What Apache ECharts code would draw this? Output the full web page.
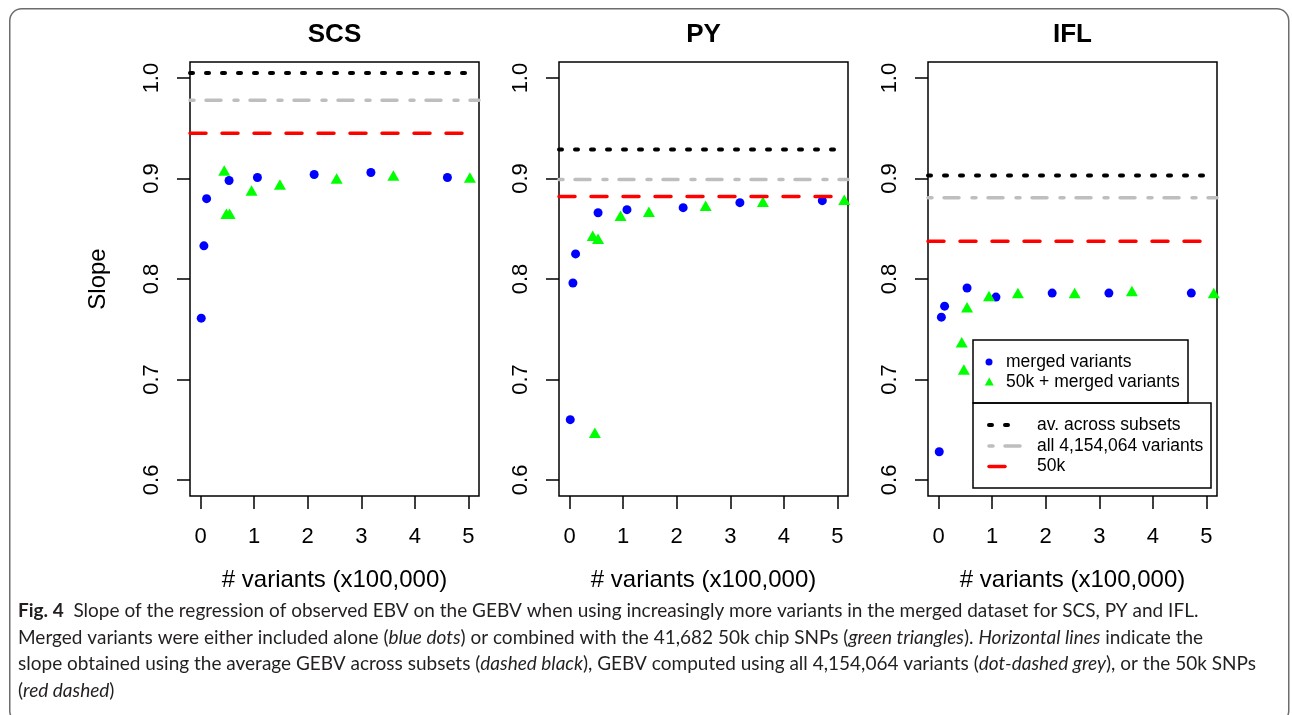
<!DOCTYPE html>
<html>

<head>
    <meta charset="UTF-8">
    <title>Slope vs number of variants</title>
    <script src="https://cdn.jsdelivr.net/npm/echarts/dist/echarts.min.js"></script>
</head>

<body style="margin:0;background:#fff;">
    <div id="chart" style="width: 1292px;height:715px;"></div>
    <script type="text/javascript">
        var myChart = echarts.init(document.getElementById('chart'));

        // Panels (traits)
        var traits = ['SCS', 'PY', 'IFL'];

        // merged variants alone (blue dots), x in units of 100,000 variants
        var scsBlueX = [0.01, 0.06, 0.11, 0.53, 1.06, 2.12, 3.18, 4.61];
        var scsBlueY = [0.761, 0.833, 0.880, 0.898, 0.901, 0.904, 0.906, 0.901];
        var pyBlueX = [0.01, 0.06, 0.11, 0.53, 1.07, 2.12, 3.18, 4.72];
        var pyBlueY = [0.660, 0.796, 0.825, 0.866, 0.869, 0.871, 0.876, 0.878];
        var iflBlueX = [0.01, 0.05, 0.11, 0.53, 1.07, 2.12, 3.18, 4.72];
        var iflBlueY = [0.628, 0.762, 0.773, 0.791, 0.782, 0.786, 0.786, 0.786];

        // 50k + merged variants (green triangles)
        var scsGreenX = [0.44, 0.48, 0.54, 0.95, 1.48, 2.54, 3.60, 5.03];
        var scsGreenY = [0.908, 0.865, 0.865, 0.888, 0.894, 0.900, 0.903, 0.901];
        var pyGreenX = [0.43, 0.47, 0.53, 0.95, 1.48, 2.54, 3.61, 5.13];
        var pyGreenY = [0.843, 0.647, 0.840, 0.863, 0.867, 0.873, 0.877, 0.879];
        var iflGreenX = [0.43, 0.47, 0.53, 0.94, 1.48, 2.54, 3.61, 5.14];
        var iflGreenY = [0.737, 0.710, 0.772, 0.783, 0.786, 0.786, 0.788, 0.786];

        // horizontal reference slopes, one value per panel
        var avgSubsets = [1.005, 0.929, 0.903];
        var allVariants = [0.978, 0.899, 0.881];
        var chip50k = [0.945, 0.882, 0.8375];

        // x extent of the reference lines
        var refLineX = [-0.2, 5];
        var greyLineX = [-0.2, 5.2];

        // axis ticks
        var xTicks = [0, 1, 2, 3, 4, 5];
        var yTicks = [0.6, 0.7, 0.8, 0.9, 1.0];

        // legend labels
        var pointLegend = ['merged variants', '50k + merged variants'];
        var lineLegend = ['av. across subsets', 'all 4,154,064 variants', '50k'];

        var blueX = [scsBlueX, pyBlueX, iflBlueX];
        var blueY = [scsBlueY, pyBlueY, iflBlueY];
        var greenX = [scsGreenX, pyGreenX, iflGreenX];
        var greenY = [scsGreenY, pyGreenY, iflGreenY];

        var FONT = "'Liberation Sans', Arial, sans-serif";
        var gridLeft = [190, 559, 928];

        var BLACK_DASH = [3, 13], GREY_DASH = [4, 12, 15, 13], RED_DASH = [16, 16];

        function zip(xs, ys) {
            return xs.map(function (x, i) { return [x, ys[i]]; });
        }

        var grids = [], xAxes = [], yAxes = [], titles = [], series = [];
        traits.forEach(function (name, i) {
            grids.push({
                left: gridLeft[i], top: 62, width: 289, height: 434,
                show: true, borderColor: '#000', borderWidth: 1.5, backgroundColor: 'transparent'
            });
            titles.push({
                text: name, left: gridLeft[i] + 144.5, top: 22, textAlign: 'center', padding: 0,
                textStyle: { fontFamily: FONT, fontSize: 26, fontWeight: 'bold', color: '#000' }
            });
            xAxes.push({
                gridIndex: i, type: 'value', min: -0.2, max: 5.2,
                axisLine: { show: false, onZero: false },
                splitLine: { show: false },
                axisTick: { show: true, length: 13, lineStyle: { color: '#000', width: 1.5 }, customValues: xTicks },
                axisLabel: { customValues: xTicks, fontFamily: FONT, fontSize: 22, color: '#000', margin: 30 },
                name: '# variants (x100,000)', nameLocation: 'middle', nameGap: 72,
                nameTextStyle: { fontFamily: FONT, fontSize: 24, color: '#000' }
            });
            yAxes.push({
                gridIndex: i, type: 'value', min: 0.584, max: 1.016,
                axisLine: { show: false, onZero: false },
                splitLine: { show: false },
                axisTick: { show: true, length: 13, lineStyle: { color: '#000', width: 1.5 }, customValues: yTicks },
                axisLabel: {
                    customValues: yTicks, rotate: 90, fontFamily: FONT, fontSize: 22, color: '#000', margin: 27,
                    formatter: function (v) { return v.toFixed(1); }
                },
                name: i === 0 ? 'Slope' : '', nameLocation: 'middle', nameGap: 80, nameRotate: 90,
                nameTextStyle: { fontFamily: FONT, fontSize: 24, color: '#000' }
            });

            series.push({
                name: lineLegend[0], type: 'line', xAxisIndex: i, yAxisIndex: i,
                data: refLineX.map(function (x) { return [x, avgSubsets[i]]; }),
                symbol: 'none', silent: true,
                lineStyle: { color: '#000', width: 4, type: BLACK_DASH, cap: 'round' }
            });
            series.push({
                name: lineLegend[1], type: 'line', xAxisIndex: i, yAxisIndex: i,
                data: greyLineX.map(function (x) { return [x, allVariants[i]]; }),
                symbol: 'none', silent: true,
                lineStyle: { color: '#BEBEBE', width: 3.5, type: GREY_DASH, cap: 'round' }
            });
            series.push({
                name: lineLegend[2], type: 'line', xAxisIndex: i, yAxisIndex: i,
                data: refLineX.map(function (x) { return [x, chip50k[i]]; }),
                symbol: 'none', silent: true,
                lineStyle: { color: '#FF0000', width: 3.5, type: RED_DASH, cap: 'round' }
            });
            series.push({
                name: pointLegend[0], type: 'scatter', xAxisIndex: i, yAxisIndex: i,
                data: zip(blueX[i], blueY[i]),
                symbol: 'circle', symbolSize: 9,
                itemStyle: { color: '#0000FF', opacity: 1 }
            });
            series.push({
                name: pointLegend[1], type: 'scatter', xAxisIndex: i, yAxisIndex: i,
                data: zip(greenX[i], greenY[i]),
                symbol: 'triangle', symbolSize: [12, 10.5],
                itemStyle: { color: '#00FF00', opacity: 1 }
            });
        });

        // legend boxes drawn in the IFL panel, as in the original figure
        var legendFont = { fontFamily: FONT, fontSize: 17.5, fill: '#000', verticalAlign: 'middle' };
        var graphics = [
            {
                type: 'rect', left: 9, top: 8, silent: true,
                shape: { width: 1279, height: 714, r: 12 },
                style: { fill: 'transparent', stroke: '#6d6d6d', lineWidth: 1.5 }
            },
            {
                type: 'rect', x: 973, y: 340, silent: true, z: 10,
                shape: { x: 0, y: 0, width: 215, height: 63 },
                style: { fill: 'transparent', stroke: '#000', lineWidth: 1.5 }
            },
            {
                type: 'rect', x: 973, y: 403, silent: true, z: 10,
                shape: { x: 0, y: 0, width: 238, height: 85 },
                style: { fill: 'transparent', stroke: '#000', lineWidth: 1.5 }
            },
            {
                type: 'circle', silent: true, z: 10,
                shape: { cx: 989, cy: 362, r: 3.5 }, style: { fill: '#0000FF' }
            },
            {
                type: 'polygon', silent: true, z: 10,
                shape: { points: [[989.3, 377.5], [993.8, 385.5], [984.8, 385.5]] }, style: { fill: '#00FF00' }
            },
            {
                type: 'line', silent: true, z: 10,
                shape: { x1: 989, y1: 425, x2: 1012, y2: 425 },
                style: { stroke: '#000', lineWidth: 4, lineDash: BLACK_DASH, lineCap: 'round' }
            },
            {
                type: 'line', silent: true, z: 10,
                shape: { x1: 989, y1: 446, x2: 1021, y2: 446 },
                style: { stroke: '#BEBEBE', lineWidth: 3.5, lineDash: GREY_DASH, lineCap: 'round' }
            },
            {
                type: 'line', silent: true, z: 10,
                shape: { x1: 989, y1: 466.5, x2: 1005, y2: 466.5 },
                style: { stroke: '#FF0000', lineWidth: 3.5, lineCap: 'round' }
            }
        ];
        var pointLegendY = [362, 382];
        pointLegend.forEach(function (t, k) {
            graphics.push({
                type: 'text', x: 1006, y: pointLegendY[k], silent: true, z: 10,
                style: Object.assign({ text: t }, legendFont)
            });
        });
        var lineLegendY = [425, 446, 466.5];
        lineLegend.forEach(function (t, k) {
            graphics.push({
                type: 'text', x: 1037, y: lineLegendY[k], silent: true, z: 10,
                style: Object.assign({ text: t }, legendFont)
            });
        });

        // figure caption
        var captionFont = "'Lato', 'Liberation Sans', sans-serif";
        var CAP = 19;
        var captionRich = {
            b: { fontFamily: captionFont, fontSize: CAP, fontWeight: 'bold', fill: '#231f20' },
            i: { fontFamily: captionFont, fontSize: CAP, fontStyle: 'italic', fill: '#231f20' }
        };
        var captionLines = [
            '{b|Fig. 4}  Slope of the regression of observed EBV on the GEBV when using increasingly more variants in the merged dataset for SCS, PY and IFL.',
            'Merged variants were either included alone ({i|blue dots}) or combined with the 41,682 50k chip SNPs ({i|green triangles}). {i|Horizontal lines} indicate the',
            'slope obtained using the average GEBV across subsets ({i|dashed black}), GEBV computed using all 4,154,064 variants ({i|dot-dashed grey}), or the 50k SNPs',
            '({i|red dashed})'
        ];
        var captionY = [611, 637.5, 664, 690.5];
        captionLines.forEach(function (t, k) {
            graphics.push({
                type: 'text', x: 18, y: captionY[k], silent: true,
                style: {
                    text: t, rich: captionRich, fill: '#231f20',
                    fontFamily: captionFont, fontSize: CAP, verticalAlign: 'middle'
                }
            });
        });

        var option = {
            animation: false,
            title: titles,
            grid: grids,
            xAxis: xAxes,
            yAxis: yAxes,
            graphic: graphics,
            series: series
        };

        myChart.setOption(option);
    </script>
</body>

</html>
